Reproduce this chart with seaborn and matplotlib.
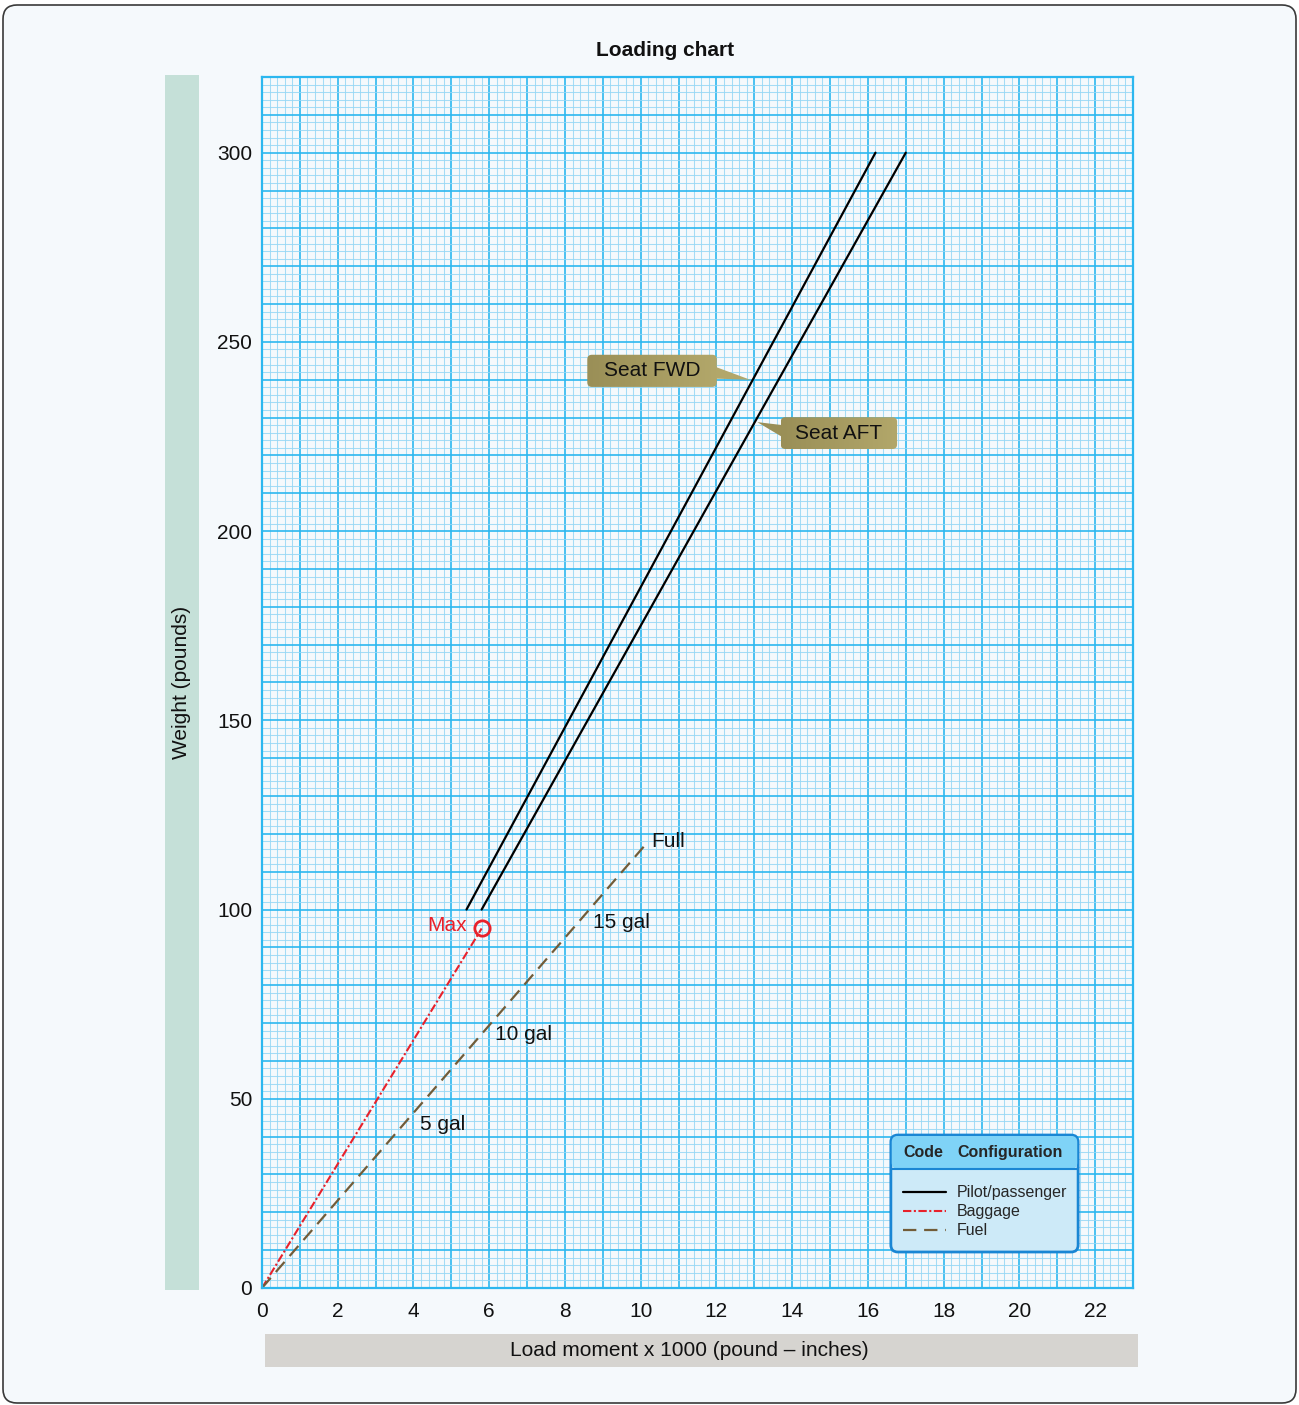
import matplotlib
matplotlib.use("Agg")
import matplotlib.pyplot as plt
import matplotlib.patches as mpatches
from matplotlib.colors import LinearSegmentedColormap
from matplotlib.transforms import IdentityTransform
from matplotlib.ticker import MultipleLocator, FuncFormatter
import numpy as np
import pandas as pd
import seaborn as sns

# values
seat_weight = [100, 300]
seat_fwd_moment = [5.4, 16.2]
seat_aft_moment = [5.8, 17.0]
baggage_weight = [0, 95]
baggage_moment = [0, 5.8]
fuel_weight = [0, 118]
fuel_moment = [0, 10.2]
fuel_labels = ["5 gal", "10 gal", "15 gal", "Full"]
legend_labels = ["Pilot/passenger", "Baggage", "Fuel"]

BG = "#f5f9fc"
MAJOR = "#2cb7ef"
MINOR = "#96d7f5"
RED = "#e8212b"
FUEL = "#725c38"
KHAKI_DARK = "#9a8f57"
KHAKI_LIGHT = "#b2a76a"
KHAKI_CMAP = LinearSegmentedColormap.from_list("khaki", [KHAKI_DARK, KHAKI_LIGHT])

sns.set_style("white")
plt.rcParams["font.family"] = ["Liberation Sans", "DejaVu Sans"]

fig = plt.figure(figsize=(12.99, 14.05), dpi=100, facecolor="white")
fig.patches.append(mpatches.FancyBboxPatch(
    (3, 2), 1293, 1398, boxstyle="round,pad=0,rounding_size=14",
    transform=IdentityTransform(), facecolor=BG, edgecolor="#3a3a3a",
    linewidth=1.2, zorder=-2))

# side label bars
fig.patches.append(mpatches.Rectangle(
    (0.127, 0.0819), 0.0262, 0.8648, transform=fig.transFigure,
    facecolor="#c5e0d8", edgecolor="none", zorder=-1))
fig.text(0.140, 0.514, "Weight (pounds)", rotation=90, ha="center",
         va="center", fontsize=15, color="#111111")
fig.patches.append(mpatches.Rectangle(
    (0.204, 0.027), 0.672, 0.0235, transform=fig.transFigure,
    facecolor="#d6d4d0", edgecolor="none", zorder=-1))
fig.text(0.531, 0.0387, "Load moment x 1000 (pound \u2013 inches)",
         ha="center", va="center", fontsize=15, color="#111111")
fig.text(0.512, 0.9644, "Loading chart", ha="center", va="center",
         fontsize=15, fontweight="bold", color="#111111")

ax = fig.add_axes([0.2017, 0.0833, 0.6705, 0.8619])
ax.set_zorder(1)
ax.set_facecolor(BG)

seat = pd.DataFrame({"weight": seat_weight, "fwd": seat_fwd_moment, "aft": seat_aft_moment})
sns.lineplot(data=seat, x="fwd", y="weight", ax=ax, color="black", linewidth=1.6,
             label=legend_labels[0], sort=False)
sns.lineplot(data=seat, x="aft", y="weight", ax=ax, color="black", linewidth=1.6, sort=False)
sns.lineplot(x=baggage_moment, y=baggage_weight, ax=ax, color=RED, linewidth=1.5,
             label=legend_labels[1], sort=False)
ax.lines[-1].set_dashes((4, 1.2, 1, 1.2))
sns.lineplot(x=fuel_moment, y=fuel_weight, ax=ax, color=FUEL, linewidth=1.6,
             label=legend_labels[2], sort=False)
ax.lines[-1].set_dashes((6, 3.5))

# graph paper grid
ax.xaxis.set_major_locator(MultipleLocator(1))
ax.xaxis.set_minor_locator(MultipleLocator(0.2))
ax.yaxis.set_major_locator(MultipleLocator(10))
ax.yaxis.set_minor_locator(MultipleLocator(2))
ax.xaxis.set_major_formatter(FuncFormatter(lambda v, p: f"{v:g}" if round(v) % 2 == 0 else ""))
ax.yaxis.set_major_formatter(FuncFormatter(lambda v, p: f"{v:g}" if round(v) % 50 == 0 else ""))
ax.grid(which="minor", color=MINOR, linewidth=0.75, alpha=0.85)
ax.grid(which="major", color=MAJOR, linewidth=1.2)
ax.set_axisbelow(True)
ax.tick_params(which="both", length=0, labelsize=15, labelcolor="#111111")
ax.tick_params(axis="x", pad=10)
ax.tick_params(axis="y", pad=7)
for s in ax.spines.values():
    s.set_color(MAJOR)
    s.set_linewidth(1.6)

# max baggage marker
ax.plot(baggage_moment[-1], baggage_weight[-1], "o", ms=11, mfc="none",
        mec=RED, mew=2, zorder=5)
ax.text(5.4, 95.7, "Max", color=RED, fontsize=15, ha="right", va="center")

# fuel quantity labels
for lab, (lx, ly) in zip(fuel_labels, [(4.16, 43.3), (6.14, 67.1), (8.75, 96.7), (10.28, 117.9)]):
    ax.text(lx, ly, lab, fontsize=15, ha="left", va="center", color="#111111")


def callout(text, box, tail, tail_color):
    x0, y0, x1, y1 = box
    ax.add_patch(mpatches.Polygon(tail, closed=True, facecolor=tail_color,
                                  edgecolor="none", zorder=4))
    patch = mpatches.FancyBboxPatch(
        (x0, y0), x1 - x0, y1 - y0, boxstyle="round,pad=0,rounding_size=0.12",
        mutation_aspect=10, facecolor="none", edgecolor="none", zorder=4)
    ax.add_patch(patch)
    im = ax.imshow(np.linspace(0, 1, 64)[None, :], cmap=KHAKI_CMAP, aspect="auto",
                   extent=(x0, x1, y0, y1), zorder=4, interpolation="bilinear")
    im.set_clip_path(patch)
    ax.text((x0 + x1) / 2, (y0 + y1) / 2, text, fontsize=15, ha="center",
            va="center", color="#111111", zorder=5)


callout("Seat FWD", (8.59, 238.1, 12.01, 246.6),
        [(11.95, 243.5), (11.95, 240.3), (12.89, 240.0)], KHAKI_LIGHT)
callout("Seat AFT", (13.7, 221.7, 16.77, 230.1),
        [(13.75, 228.0), (13.75, 224.8), (13.08, 228.8)], KHAKI_DARK)
ax.set_xlim(0, 23)
ax.set_ylim(0, 320)
ax.set_aspect("auto")
ax.set_xlabel("")
ax.set_ylabel("")

# legend box
ax.add_patch(mpatches.FancyBboxPatch(
    (0.722, 0.0297), 0.215, 0.0966, transform=ax.transAxes,
    boxstyle="round,pad=0,rounding_size=0.008", mutation_aspect=0.72,
    facecolor="#cdeaf8", edgecolor="#1a86d4", linewidth=2, zorder=6))
ax.add_patch(mpatches.FancyBboxPatch(
    (0.723, 0.0983), 0.213, 0.0272, transform=ax.transAxes,
    boxstyle="round,pad=0,rounding_size=0.007", mutation_aspect=0.72,
    facecolor="#7fd3f7", edgecolor="none", zorder=6))
ax.plot([0.722, 0.937], [0.0983, 0.0983], transform=ax.transAxes,
        color="#1a86d4", linewidth=1.5, zorder=7)
ax.text(0.736, 0.1115, "Code", transform=ax.transAxes, fontsize=11.5,
        fontweight="bold", va="center", ha="left", zorder=8)
ax.text(0.798, 0.1115, "Configuration", transform=ax.transAxes, fontsize=11.5,
        fontweight="bold", va="center", ha="left", zorder=8)
leg = ax.legend(loc="upper left", bbox_to_anchor=(0.7265, 0.0915), frameon=False,
                fontsize=11.5, handlelength=2.7, handletextpad=0.7,
                labelspacing=0.25, borderpad=0)
leg.set_zorder(9)

fig.savefig("out.png", dpi=100, facecolor="white")
